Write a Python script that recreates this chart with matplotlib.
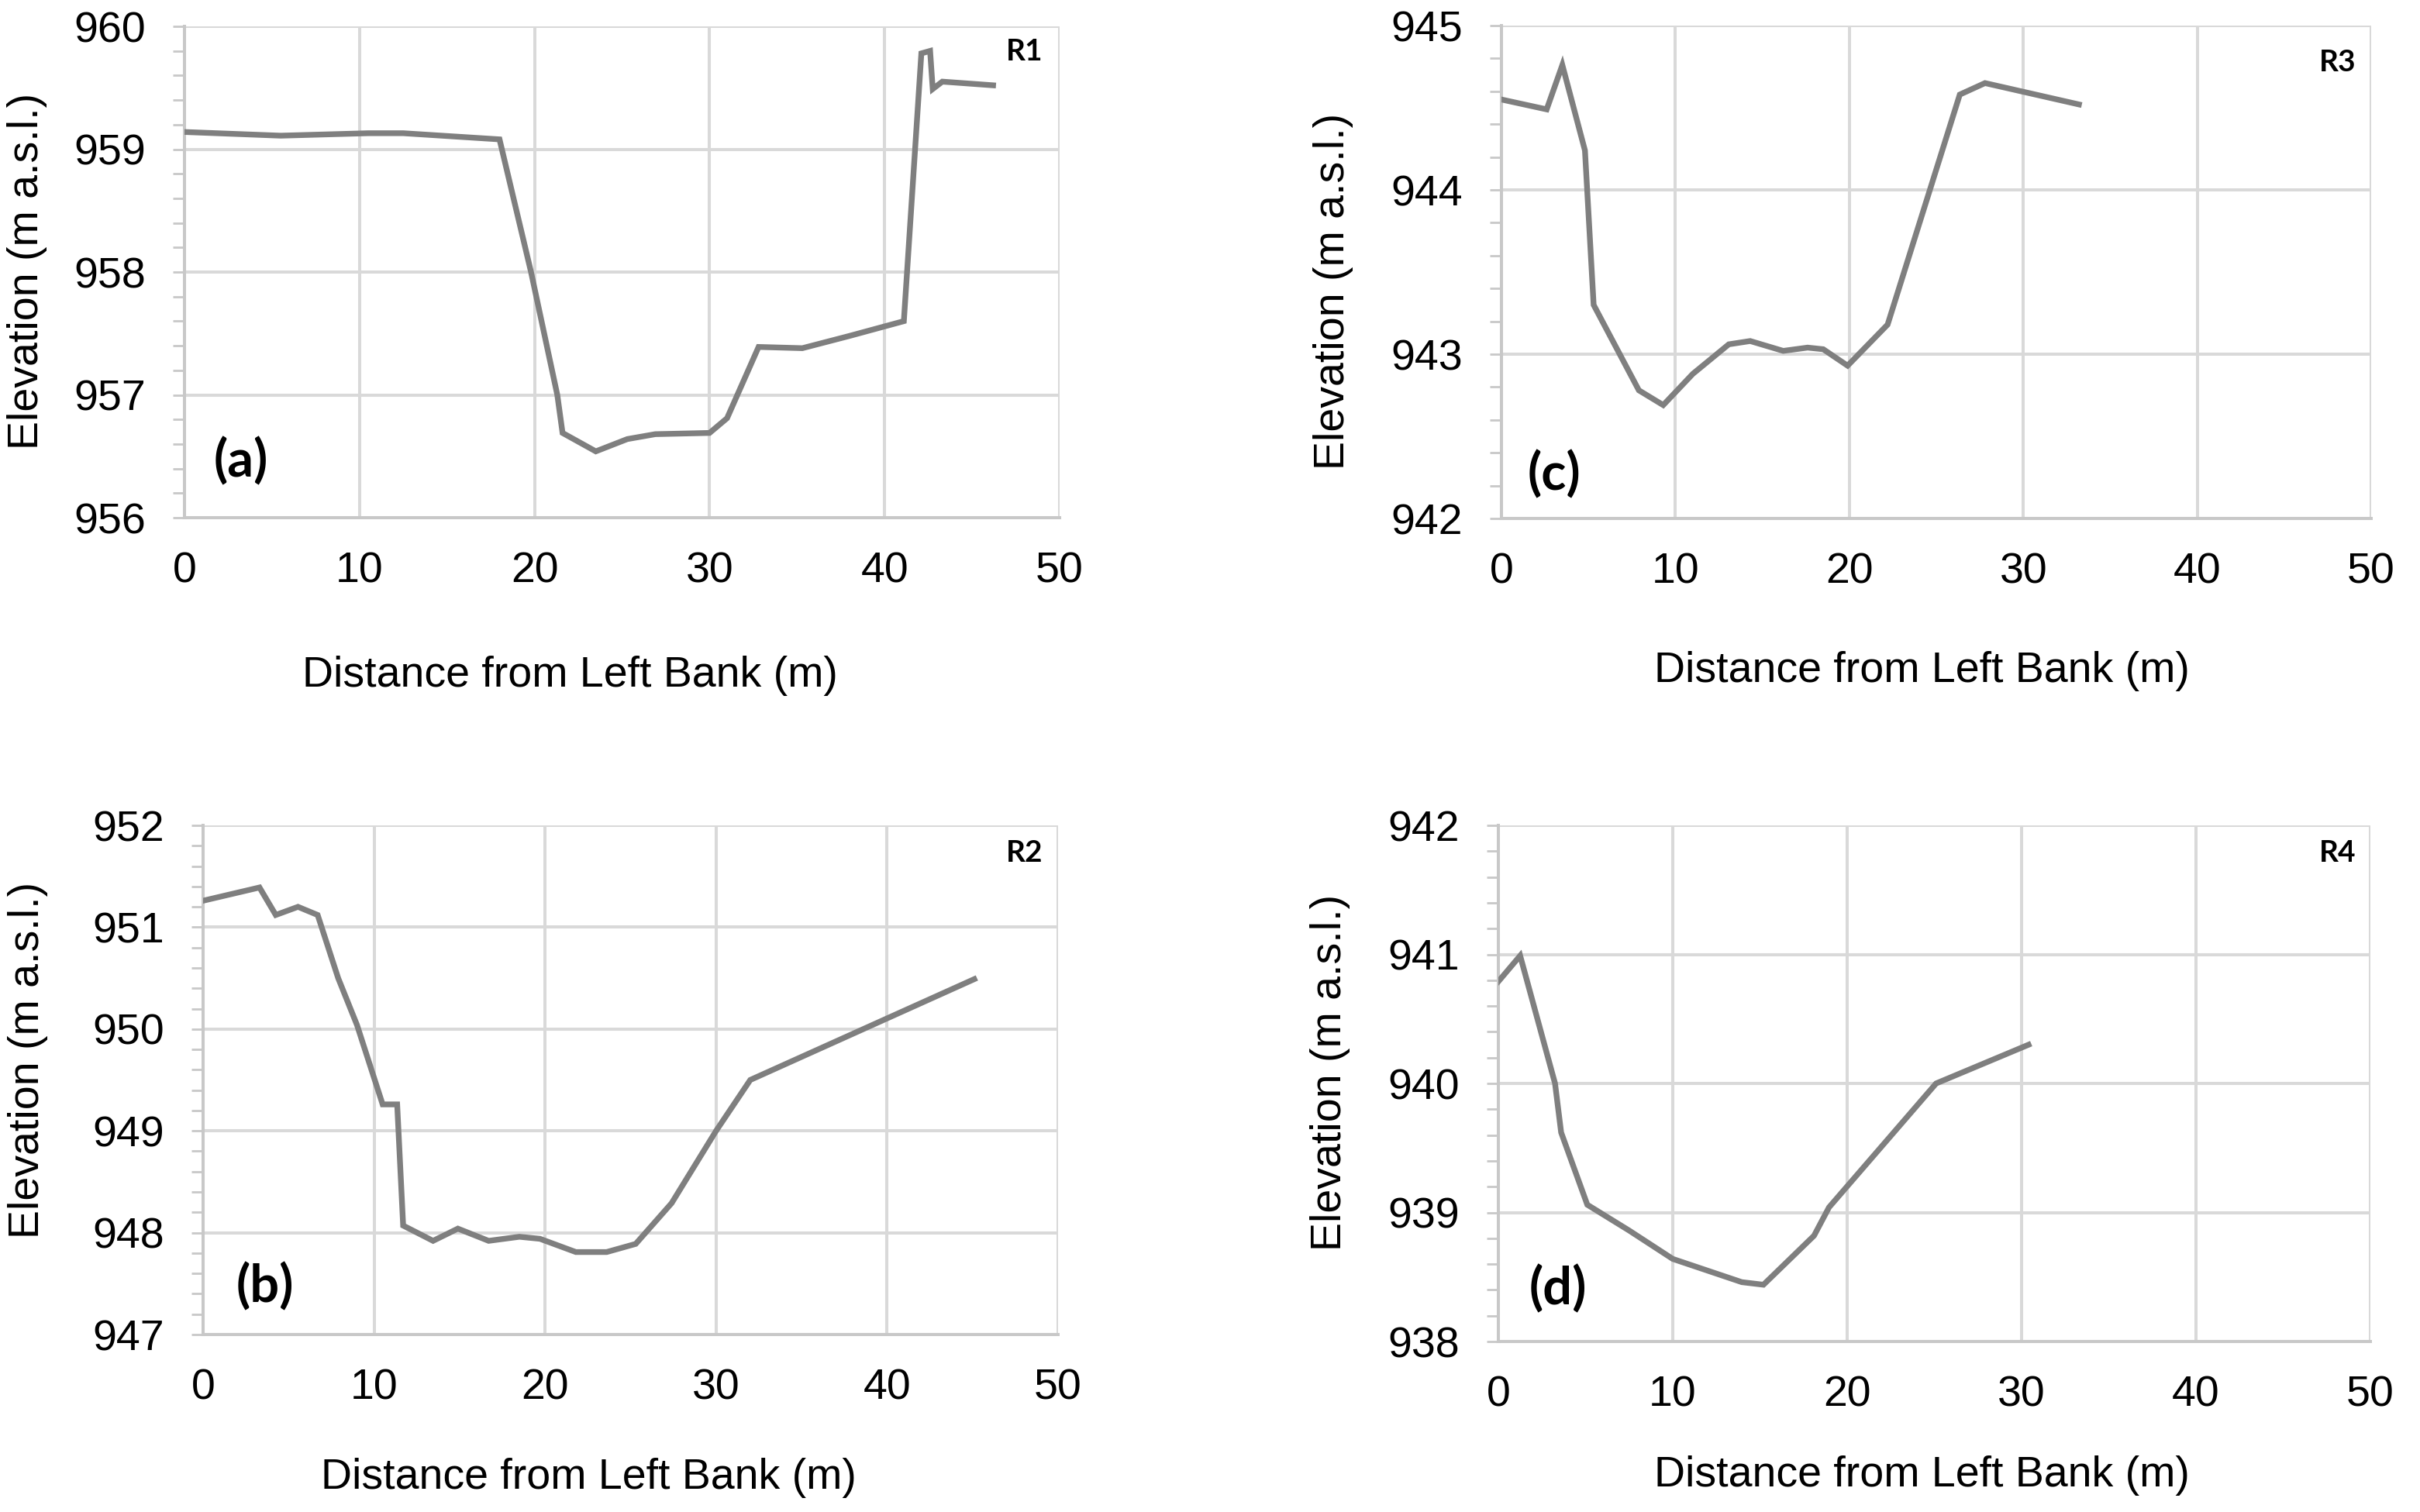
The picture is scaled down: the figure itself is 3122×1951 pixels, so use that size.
import numpy as np
import matplotlib
matplotlib.use('Agg')
import matplotlib.pyplot as plt
from matplotlib.ticker import MultipleLocator

plt.rcParams['font.family'] = ['Liberation Sans', 'DejaVu Sans']

W, H = 3122, 1951
DPI = 100

LINE_COLOR = '#7f7f7f'
GRID_COLOR = '#d9d9d9'
SPINE_COLOR = '#c8c8c8'
TAG_FONT = ['Liberation Sans Narrow', 'Lato', 'DejaVu Sans']

# cross-section R1 (a)
r1_dist = [0, 5.5, 10.5, 12.5, 18.0, 19.8, 21.3, 21.6, 23.5, 25.3, 26.9, 30.0, 31.0,
           32.8, 35.3, 38.0, 41.1, 42.1, 42.6, 42.75, 43.3, 46.2]
r1_elev = [959.14, 959.11, 959.13, 959.13, 959.08, 958.0, 957.0, 956.69, 956.54, 956.64,
           956.68, 956.69, 956.81, 957.39, 957.38, 957.48, 957.6, 959.78, 959.8, 959.49,
           959.55, 959.52]

# cross-section R2 (b)
r2_dist = [0, 3.3, 4.25, 5.55, 6.7, 7.9, 9.0, 10.5, 11.35, 11.7, 13.45, 14.9, 16.7, 18.5,
           19.7, 21.8, 23.6, 25.3, 27.4, 30.0, 32.0, 45.1]
r2_elev = [951.26, 951.39, 951.12, 951.2, 951.12, 950.5, 950.04, 949.26, 949.26, 948.07,
           947.92, 948.04, 947.92, 947.96, 947.94, 947.81, 947.81, 947.89, 948.29, 949.0,
           949.5, 950.49]

# cross-section R3 (c)
r3_dist = [0, 2.6, 3.5, 4.8, 5.3, 7.9, 9.3, 11.0, 13.07, 14.3, 16.2, 17.6, 18.5, 19.9,
           22.2, 26.35, 27.8, 33.2]
r3_elev = [944.55, 944.49, 944.76, 944.24, 943.3, 942.78, 942.69, 942.88, 943.06, 943.08,
           943.02, 943.04, 943.03, 942.93, 943.18, 944.58, 944.65, 944.52]

# cross-section R4 (d)
r4_dist = [0, 1.25, 3.25, 3.6, 5.1, 7.5, 10.0, 13.96, 15.2, 18.1, 18.96, 25.1, 30.4]
r4_elev = [940.79, 940.99, 940.0, 939.62, 939.06, 938.86, 938.64, 938.46, 938.44, 938.82,
           939.04, 940.0, 940.3]

panels = [
    # data, ylim, panel tag, section, axes box px (l, r, t, b), xlabel px, ylabel px, tag px, section px
    (r1_dist, r1_elev, (956, 960), '(a)', 'R1', (238, 1367, 34, 668), (735, 872), (35, 350),
     (311, 596), (1322, 66)),
    (r3_dist, r3_elev, (942, 945), '(c)', 'R3', (1937, 3059, 33, 669), (2479, 866), (1720, 376),
     (2005, 613), (3016, 81)),
    (r2_dist, r2_elev, (947, 952), '(b)', 'R2', (262, 1365, 1065, 1722), (759, 1907), (36, 1368),
     (342, 1661), (1322, 1100)),
    (r4_dist, r4_elev, (938, 942), '(d)', 'R4', (1933, 3058, 1065, 1731), (2479, 1904), (1716, 1384),
     (2010, 1664), (3016, 1100)),
]

fig = plt.figure(figsize=(W / DPI, H / DPI), dpi=DPI)
fig.patch.set_facecolor('white')


def px(x, y):
    return x / W, 1 - y / H


for dist, elev, ylim, tag, sec, box, xl, yl, tagpos, secpos in panels:
    l, r, t, b = box
    ax = fig.add_axes([l / W, 1 - b / H, (r - l) / W, (b - t) / H])
    ax.plot(dist, elev, color=LINE_COLOR, lw=5.3, solid_joinstyle='miter', zorder=3)
    ax.set_xlim(0, 50)
    ax.set_ylim(*ylim)
    ax.xaxis.set_major_locator(MultipleLocator(10))
    ax.yaxis.set_major_locator(MultipleLocator(1))
    ax.yaxis.set_minor_locator(MultipleLocator(0.2))
    ax.grid(True, which='major', color=GRID_COLOR, lw=2.9)
    ax.set_axisbelow(True)
    for s in ['top', 'right']:
        ax.spines[s].set_visible(False)
    for s in ['left', 'bottom']:
        ax.spines[s].set_color(SPINE_COLOR)
        ax.spines[s].set_linewidth(2.9)
    ax.tick_params(axis='x', length=0, pad=31, labelsize=40)
    ax.tick_params(axis='y', which='both', length=11, width=2, color=SPINE_COLOR,
                   pad=25, labelsize=40)

    fig.text(*px(*xl), 'Distance from Left Bank (m)', ha='center', va='center', fontsize=40)
    fig.text(*px(*yl), 'Elevation (m a.s.l.)', ha='center', va='center', rotation=90,
             fontsize=40)
    fig.text(*px(*tagpos), tag, ha='center', va='center', fontsize=48, fontweight='bold',
             family=TAG_FONT)
    fig.text(*px(*secpos), sec, ha='center', va='center', fontsize=28, fontweight='bold',
             family=TAG_FONT)

fig.savefig('out.png', dpi=DPI, facecolor='white')
